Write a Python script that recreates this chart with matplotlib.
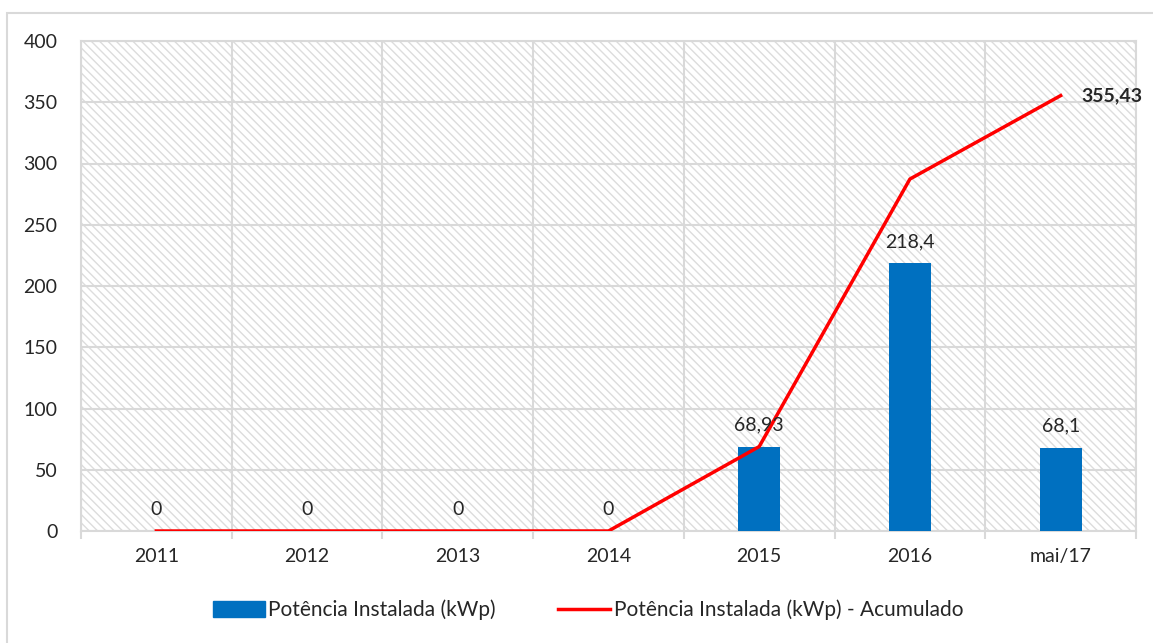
import matplotlib.pyplot as plt
from matplotlib.patches import Rectangle
from matplotlib.lines import Line2D

plt.rcParams['font.family'] = ['Lato', 'DejaVu Sans']

categorias = ['2011', '2012', '2013', '2014', '2015', '2016', 'mai/17']
potencia = [0, 0, 0, 0, 68.93, 218.4, 68.1]
acumulado = [0, 0, 0, 0, 68.93, 287.33, 355.43]
rotulos = ['0', '0', '0', '0', '68,93', '218,4', '68,1']

azul = '#0070C0'
vermelho = '#FF0000'
cinza = '#d9d9d9'
texto = '#262626'

fig = plt.figure(figsize=(11.53, 6.43), dpi=100)
# moldura externa (so topo e lado esquerdo aparecem)
fig.add_artist(Rectangle((7 / 1153, -0.1), 1.2, 1 - 13 / 643 + 0.1,
                         transform=fig.transFigure, fill=False,
                         edgecolor=cinza, lw=1.5))

ax = fig.add_axes([81 / 1153, 1 - 531 / 643, (1136 - 81) / 1153, (531 - 41) / 643])

# fundo hachurado
ax.add_patch(Rectangle((0, 0), 1, 1, transform=ax.transAxes, facecolor='white',
                       edgecolor='#dddddd', hatch='\\\\\\\\', lw=0, zorder=0))

x = range(len(categorias))
ax.bar(x, potencia, width=0.28, color=azul, zorder=3)
ax.plot(x, acumulado, color=vermelho, lw=2.5, zorder=4)

for i, (v, r) in enumerate(zip(potencia, rotulos)):
    ax.text(i, v + 11, r, ha='center', va='bottom', fontsize=14, color=texto, zorder=5)
ax.text(len(categorias) - 1 + 0.14, acumulado[-1], '355,43', ha='left', va='center',
        fontsize=14, fontweight='bold', color=texto, zorder=5)

ax.set_xlim(-0.5, len(categorias) - 0.5)
ax.set_ylim(0, 400)
ax.set_yticks(range(0, 401, 50))
ax.set_xticks(list(x))
ax.set_xticklabels(categorias)
ax.set_xticks([i - 0.5 for i in range(len(categorias) + 1)], minor=True)

ax.grid(axis='y', color=cinza, lw=1.5, zorder=1)
ax.grid(axis='x', which='minor', color=cinza, lw=1.5, zorder=1)
ax.set_axisbelow(True)

ax.tick_params(axis='y', length=0, pad=17, labelsize=14, labelcolor=texto)
ax.tick_params(axis='x', which='major', length=0, pad=12, labelsize=14, labelcolor=texto)
ax.tick_params(axis='x', which='minor', length=6, width=1.5, color=cinza)
for s in ax.spines.values():
    s.set_color(cinza)
    s.set_linewidth(1.5)

handles = [Rectangle((0, 0), 1, 1, color=azul),
           Line2D([], [], color=vermelho, lw=2.5)]
fig.legend(handles, ['Potência Instalada (kWp)', 'Potência Instalada (kWp) - Acumulado'],
           loc='center', bbox_to_anchor=(588 / 1153, 1 - 610 / 643), ncol=2,
           frameon=False, fontsize=15, handlelength=2.5, handleheight=0.75,
           handletextpad=0.15, columnspacing=3.0, labelcolor=texto)

plt.savefig('out.png', dpi=100)
